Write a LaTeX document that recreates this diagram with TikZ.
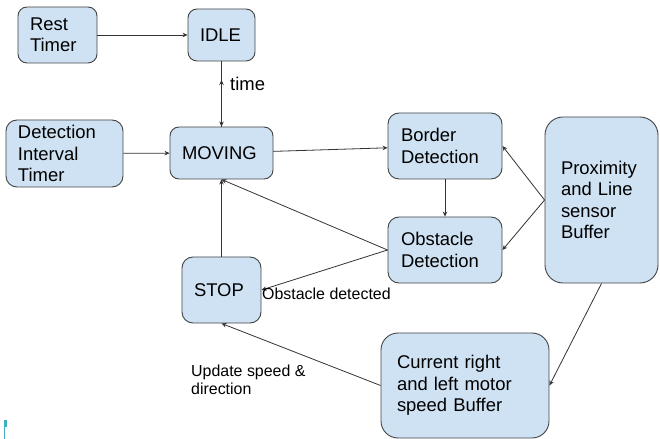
\documentclass[tikz,border=0pt]{standalone}
\usepackage{fontspec}
\setmainfont{Liberation Sans}
\usetikzlibrary{arrows.meta}

\definecolor{boxfill}{HTML}{CFE2F3}
\definecolor{boxline}{HTML}{434343}
\definecolor{wire}{HTML}{333333}
\definecolor{marker}{HTML}{3FB0C0}

\tikzset{
  box/.style={draw=boxline, fill=boxfill, line width=0.9bp, rounded corners=9bp,
    align=left, inner xsep=12bp, inner ysep=0pt, font=\fontsize{18.5}{21.5}\selectfont},
  tag/.style={inner sep=0pt, align=left, anchor=west, font=\fontsize{16}{18.5}\selectfont},
  link/.style={draw=wire, line width=0.8bp, -{Stealth[length=5bp,width=4.5bp]}},
}

\begin{document}
\begin{tikzpicture}[x=1bp, y=-1bp]
  \useasboundingbox (0,0) rectangle (660,439);

  % timers and states (centres in picture units)
  \node[box, text width=55bp, minimum height=56bp] (rest) at (57.5,35) {Rest\\Timer};
  \node[box, text width=43bp, minimum height=52bp] (idle) at (221.5,35) {IDLE};
  \node[box, text width=93bp, minimum height=67bp, rounded corners=11bp] (detint) at (64.5,153.5) {Detection\\Interval\\Timer};
  \node[box, text width=79bp, minimum height=52bp] (moving) at (221.5,153) {MOVING};
  \node[box, text width=55bp, minimum height=66bp, rounded corners=11bp] (stop) at (221.5,290) {STOP};

  % detection
  \node[box, text width=88bp, inner xsep=13bp, minimum height=66bp, rounded corners=11bp] (border) at (445,146) {Border\\Detection};
  \node[box, text width=88bp, inner xsep=13bp, minimum height=66bp, rounded corners=11bp] (obstacle) at (445,250) {Obstacle\\Detection};

  % buffers
  \node[box, text width=81bp, inner xsep=16bp, minimum height=166bp, rounded corners=18bp] (prox) at (601.5,200) {Proximity\\and Line\\sensor\\Buffer};
  \node[box, text width=136bp, inner xsep=16bp, minimum height=105bp, rounded corners=17bp] (motor) at (465,385.5) {Current right\\and left motor\\speed Buffer};

  \coordinate (timeat) at (221.5,80);

  \draw[link] (rest) -- (idle);
  \draw[link] (idle) -- (moving);
  \draw[link] (moving.north) -- (timeat);
  \draw[link] (detint) -- (moving);
  \draw[link] (moving) -- (border);
  \draw[link] (border) -- (obstacle);
  \draw[link] (prox.west) -- (border.east);
  \draw[link] (prox.west) -- (obstacle.east);
  \draw[link] (obstacle.west) -- (moving.south);
  \draw[link] (obstacle.west) -- (stop.east);
  \draw[link] (stop) -- (moving);
  \draw[link] (prox.south) -- (motor.east);
  \draw[link] (motor.west) -- (stop.south);

  % edge labels
  \node[tag, font=\fontsize{18.5}{21.5}\selectfont] (timelbl) at (230,84) {time};
  \node[tag] (obstlbl) at (262,294) {Obstacle detected};
  \node[tag] (updlbl) at (191,380) {Update speed \&\\direction};

  % stray mark, bottom left
  \fill[marker] (4,420) rectangle (7,427);
  \fill[marker] (4,420) rectangle (5.3,439);
\end{tikzpicture}
\end{document}
